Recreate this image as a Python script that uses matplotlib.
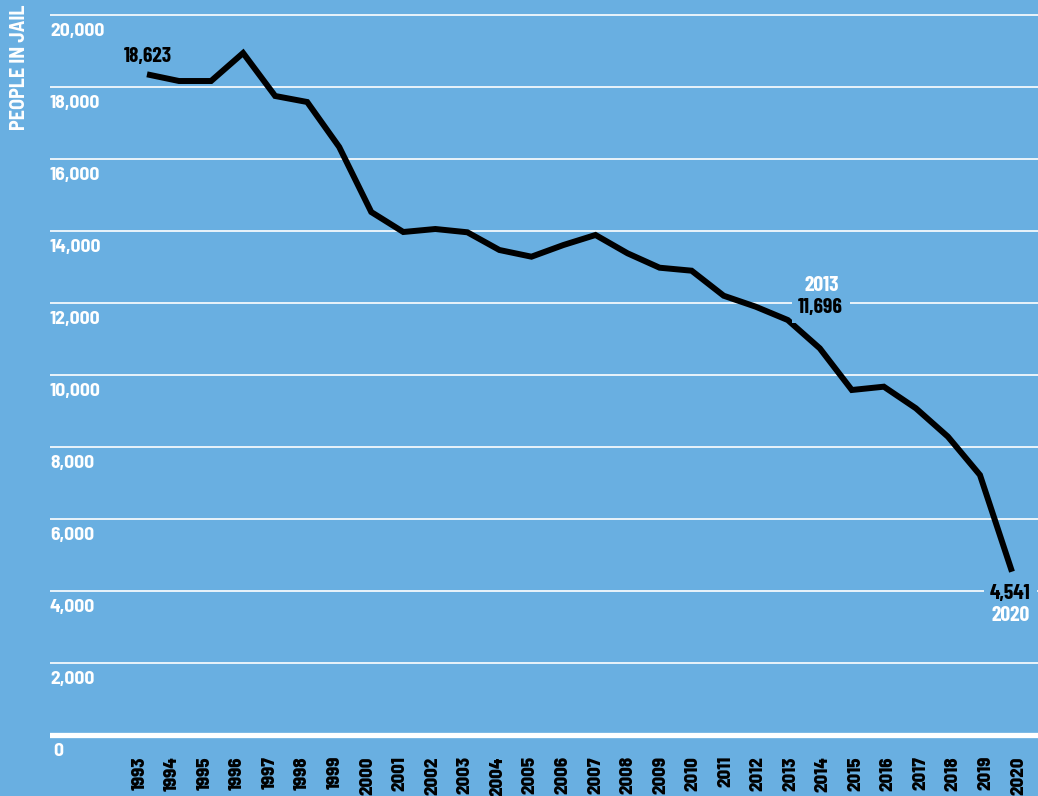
import matplotlib
matplotlib.use("Agg")
import matplotlib.pyplot as plt
from matplotlib.transforms import offset_copy, ScaledTranslation

# ---------------- data ----------------
years = list(range(1993, 2021))
people = [18344, 18158, 18158, 18936, 17742, 17575, 16325, 14519, 13964, 14047,
          13956, 13464, 13278, 13603, 13881, 13372, 12972, 12889, 12194, 11889,
          11519, 10733, 9575, 9667, 9067, 8278, 7214, 4528]
ytick_values = [0, 2000, 4000, 6000, 8000, 10000, 12000, 14000, 16000, 18000, 20000]
ytick_labels = ["0", "2,000", "4,000", "6,000", "8,000", "10,000", "12,000",
                "14,000", "16,000", "18,000", "20,000"]
y_title = "PEOPLE IN JAIL"
start_label = "18,623"
mid_year_label, mid_value_label = "2013", "11,696"
end_year_label, end_value_label = "2020", "4,541"

# ---------------- style ----------------
BG = "#69afe1"
COND = ["Barlow Condensed", "DejaVu Sans"]
SEMI = ["Barlow Semi Condensed", "Barlow Condensed", "DejaVu Sans"]
plt.rcParams["font.family"] = COND
FS = 15.5

W, H = 1038, 796
fig = plt.figure(figsize=(W / 100, H / 100), dpi=100, facecolor=BG)
ax = fig.add_axes([50 / W, (H - 745) / H, 1 - 50 / W, 745 / H])
ax.set_facecolor(BG)

px_per_unit = 0.036
ax.set_ylim((734.7 - 745) / px_per_unit, 734.7 / px_per_unit)
ax.set_xlim(1993 - 97 / 32.04, 2020 + 26 / 32.04)

for s in ax.spines.values():
    s.set_visible(False)
ax.tick_params(axis="y", left=False, labelleft=False)
ax.tick_params(axis="x", bottom=False, pad=4.5)

# gridlines
for v in ytick_values:
    ax.axhline(v, color="white", lw=3.8 if v == 0 else 1.2, zorder=1)

# y tick labels, inside, below gridlines
for v, lab in zip(ytick_values, ytick_labels):
    tr = offset_copy(ax.get_yaxis_transform(), fig=fig, x=3 if v == 0 else 0,
                     y=-8, units="dots")
    ax.text(0.0, v, lab, transform=tr, color="white", fontsize=14, family=SEMI,
            fontweight="bold", ha="left", va="top", zorder=3)

# line
ax.plot(years, people, color="black", lw=4.3, solid_joinstyle="miter",
        solid_capstyle="butt", zorder=4)

# x ticks
ax.set_xticks(years)
ax.set_xticklabels([str(y) for y in years], rotation=90, fontsize=13.5,
                   family=SEMI, fontweight="heavy", color="black",
                   va="top", ha="center")
n = len(years)
for i, t in enumerate(ax.get_xticklabels()):
    dx = (-7.5 + 13.5 * i / (n - 1)) / 100.0
    t.set_transform(t.get_transform() + ScaledTranslation(dx, 0, fig.dpi_scale_trans))

# y title
fig.text(20 / W, 1 - 4 / H, y_title, rotation=90, color="white", fontsize=14.5,
         family=SEMI, fontweight="bold", ha="center", va="top")

# annotations
ax.annotate(start_label, (years[0], people[0]), xytext=(1, 13), textcoords="offset points",
            ha="center", va="center", fontsize=FS, fontweight="bold", color="black", zorder=5)

ax.text(2013 + 1.03, 11872, mid_value_label, ha="center", va="center", fontsize=FS,
        fontweight="bold", color="black", zorder=5,
        bbox=dict(boxstyle="square,pad=0.3", fc=BG, ec="none"))
ax.text(2013 + 1.05, 12489, mid_year_label, ha="center", va="center", fontsize=FS,
        fontweight="bold", color="white", zorder=5)

ax.text(2020 - 0.05, 3922, end_value_label, ha="center", va="center", fontsize=FS,
        fontweight="bold", color="black", zorder=5,
        bbox=dict(boxstyle="square,pad=0.3", fc=BG, ec="none"))
ax.text(2020 - 0.04, 3317, end_year_label, ha="center", va="center", fontsize=FS,
        fontweight="bold", color="white", zorder=5)

fig.savefig("out.png", dpi=100, facecolor=BG)
